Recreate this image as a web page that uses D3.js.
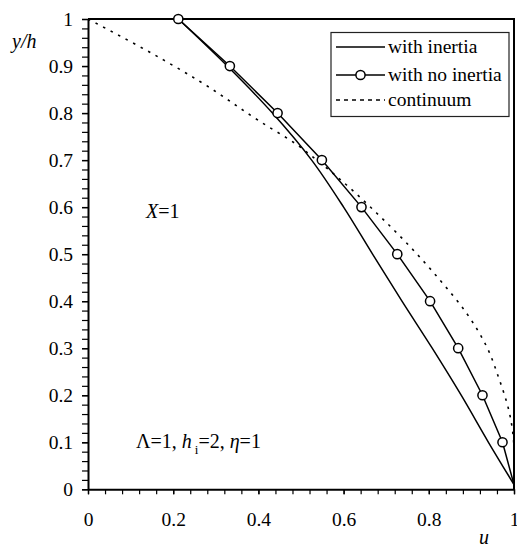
<!DOCTYPE html>
<html>
<head>
<meta charset="utf-8">
<script src="https://cdn.jsdelivr.net/npm/d3@7"></script>
</head>
<body style="margin:0">
<script>
// ---------------- data ----------------
const xTickValues = [0, 0.2, 0.4, 0.6, 0.8, 1];
const xTickLabels = ["0", "0.2", "0.4", "0.6", "0.8", "1"];
const yTickValues = [0, 0.1, 0.2, 0.3, 0.4, 0.5, 0.6, 0.7, 0.8, 0.9, 1];
const yTickLabels = ["0", "0.1", "0.2", "0.3", "0.4", "0.5", "0.6", "0.7", "0.8", "0.9", "1"];

// with no inertia (markers)
const noInertiaY = [1.0, 0.9, 0.8, 0.7, 0.6, 0.5, 0.4, 0.3, 0.2, 0.1];
const noInertiaU = [0.212, 0.333, 0.445, 0.549, 0.642, 0.726, 0.803, 0.869, 0.926, 0.973];
const noInertiaEnd = { u: 1.0, y: 0.01 };

// with inertia
const inertiaY = [1.0, 0.9, 0.8, 0.7, 0.6, 0.5, 0.4, 0.3, 0.2, 0.1, 0.01];
const inertiaU = [0.212, 0.327, 0.433, 0.525, 0.600, 0.668, 0.737, 0.808, 0.876, 0.940, 1.0];

// continuum
const continuumU = [0, 0.177, 0.263, 0.404, 0.49, 0.537, 0.607, 0.678, 0.756, 0.826, 0.889, 0.936, 0.963, 0.991, 1.0, 1.0];
const continuumY = [1.0, 0.913, 0.867, 0.782, 0.733, 0.70, 0.647, 0.587, 0.516, 0.445, 0.374, 0.303, 0.24, 0.155, 0.08, 0.0];

const legendLabels = ["with inertia", "with no inertia", "continuum"];

// ---------------- chart ----------------
const W = 517, H = 545;
const svg = d3.select("body").append("svg").attr("width", W).attr("height", H);

const x = d3.scaleLinear().domain([0, 1]).range([88, 514]);
const y = d3.scaleLinear().domain([0, 1]).range([489.3, 19]);
const FONT = "'Liberation Serif'";
const fontSize = 19.5;

const yMinor = d3.range(0, 1.0001, 0.02).map(v => +v.toFixed(2));
const xMinor = d3.range(0, 1.0001, 0.04).map(v => +v.toFixed(2));

svg.append("g").attr("transform", `translate(${x(0)},0)`)
  .call(d3.axisLeft(y).tickValues(yMinor).tickSize(6).tickSizeOuter(0).tickFormat(""))
  .call(g => g.select(".domain").remove())
  .call(g => g.selectAll("line").attr("stroke", "#000").attr("stroke-width", 1.2));

svg.append("g").attr("transform", `translate(0,${y(0)})`)
  .call(d3.axisBottom(x).tickValues(xMinor).tickSize(5).tickSizeOuter(0).tickFormat(""))
  .call(g => g.select(".domain").remove())
  .call(g => g.selectAll("line").attr("stroke", "#000").attr("stroke-width", 1.2));

function styleText(sel, size) {
  return sel.style("font-family", FONT).style("font-size", size + "px").attr("fill", "#000");
}

const yAxis = svg.append("g").attr("transform", `translate(${x(0)},0)`)
  .call(d3.axisLeft(y).tickValues(yTickValues).tickSize(6).tickSizeOuter(0).tickPadding(9)
    .tickFormat((d, i) => yTickLabels[i]));
yAxis.attr("font-family", null).attr("font-size", null);
yAxis.select(".domain").attr("stroke", "#000").attr("stroke-width", 2);
yAxis.selectAll("line").attr("stroke", "#000").attr("stroke-width", 1.4);
styleText(yAxis.selectAll("text"), fontSize);

const xAxis = svg.append("g").attr("transform", `translate(0,${y(0)})`)
  .call(d3.axisBottom(x).tickValues(xTickValues).tickSize(5).tickSizeOuter(0).tickPadding(18)
    .tickFormat((d, i) => xTickLabels[i]));
xAxis.attr("font-family", null).attr("font-size", null);
xAxis.select(".domain").attr("stroke", "#000").attr("stroke-width", 2);
xAxis.selectAll("line").attr("stroke", "#000").attr("stroke-width", 1.4);
styleText(xAxis.selectAll("text"), fontSize);

svg.append("path")
  .attr("d", `M${x(0)},${y(1)}H${x(1)}V${y(0)}`)
  .attr("fill", "none").attr("stroke", "#000").attr("stroke-width", 2);

const contData = continuumU.map((u, i) => ({ u, y: continuumY[i] }));
svg.append("path")
  .datum(contData)
  .attr("d", d3.line().x(d => x(d.u)).y(d => y(d.y)).curve(d3.curveMonotoneY))
  .attr("fill", "none").attr("stroke", "#000").attr("stroke-width", 1.6)
  .attr("stroke-dasharray", "2.5,6");

const inData = inertiaU.map((u, i) => ({ u, y: inertiaY[i] }));
svg.append("path")
  .datum(inData)
  .attr("d", d3.line().x(d => x(d.u)).y(d => y(d.y)).curve(d3.curveCatmullRom))
  .attr("fill", "none").attr("stroke", "#000").attr("stroke-width", 1.5);

const niData = noInertiaU.map((u, i) => ({ u, y: noInertiaY[i] }));
svg.append("path")
  .datum(niData.concat([noInertiaEnd]))
  .attr("d", d3.line().x(d => x(d.u)).y(d => y(d.y)))
  .attr("fill", "none").attr("stroke", "#000").attr("stroke-width", 1.5);
svg.selectAll("circle.ni").data(niData).enter().append("circle")
  .attr("class", "ni")
  .attr("cx", d => x(d.u)).attr("cy", d => y(d.y)).attr("r", 4.6)
  .attr("fill", "#fff").attr("stroke", "#000").attr("stroke-width", 1.5);

styleText(svg.append("text").attr("x", 12).attr("y", 48), 20).style("font-style", "italic").text("y/h");
styleText(svg.append("text").attr("x", 479).attr("y", 544), 20).style("font-style", "italic").text("u");

const xt = styleText(svg.append("text").attr("x", 146).attr("y", 218), 20);
xt.append("tspan").style("font-style", "italic").text("X");
xt.append("tspan").text("=1");

const at = styleText(svg.append("text").attr("x", 136).attr("y", 448), 20);
at.append("tspan").text("Λ=1, ");
at.append("tspan").style("font-style", "italic").text("h");
at.append("tspan").style("font-size", "13px").attr("dx", 3).attr("dy", 6).text("i");
at.append("tspan").attr("dy", -6).text("=2, ");
at.append("tspan").style("font-style", "italic").text("η");
at.append("tspan").text("=1");

const lg = svg.append("g");
lg.append("rect").attr("x", 331).attr("y", 32.5).attr("width", 178).attr("height", 84)
  .attr("fill", "#fff").attr("stroke", "#222").attr("stroke-width", 1.2);
const rowsY = [47, 75, 100];
const lx0 = 336, lx1 = 385;
lg.append("line").attr("x1", lx0).attr("x2", lx1).attr("y1", rowsY[0]).attr("y2", rowsY[0])
  .attr("stroke", "#000").attr("stroke-width", 1.5);
lg.append("line").attr("x1", lx0).attr("x2", lx1).attr("y1", rowsY[1]).attr("y2", rowsY[1])
  .attr("stroke", "#000").attr("stroke-width", 1.5);
lg.append("circle").attr("cx", (lx0 + lx1) / 2).attr("cy", rowsY[1]).attr("r", 4.6)
  .attr("fill", "#fff").attr("stroke", "#000").attr("stroke-width", 1.5);
lg.append("line").attr("x1", lx0).attr("x2", lx1).attr("y1", rowsY[2]).attr("y2", rowsY[2])
  .attr("stroke", "#000").attr("stroke-width", 1.6).attr("stroke-dasharray", "4,4");
legendLabels.forEach((t, i) => {
  styleText(lg.append("text").attr("x", 388).attr("y", rowsY[i]).attr("dy", "0.33em"), fontSize).text(t);
});
</script>
</body>
</html>
